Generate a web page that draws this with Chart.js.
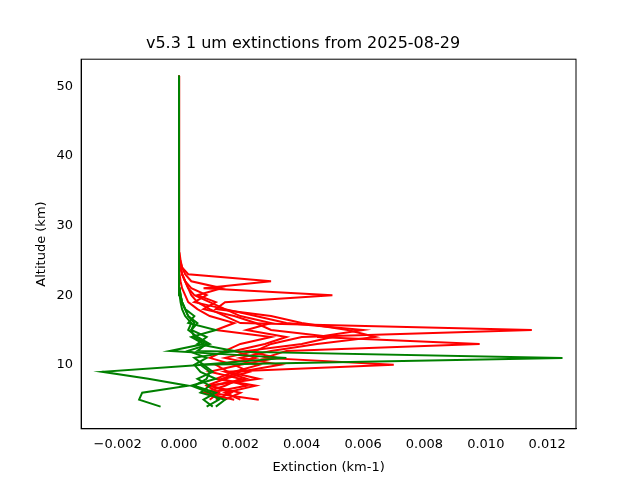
<!DOCTYPE html>
<html><head><meta charset="utf-8">
<script src="https://cdn.jsdelivr.net/npm/chart.js@4/dist/chart.umd.min.js"></script>
<style>body{margin:0;background:#fff}#wrap{width:640px;height:480px}</style>
</head><body><div id="wrap"><canvas id="c"></canvas></div>
<script>
// altitude levels (km)
var altitudes = [4,5,6,7,8,9,10,11,12,13,14,15,16,17,18,19,20,21,22,23,24,25,26,28,30,35,40,45,51.5];
// extinction profiles, in units of 1e-3 km-1
var red1 = [null,2.0,1.5,2.5,1.2,1.8,2.6,1.5,2.5,3.0,4.0,11.5,2.0,1.5,1.0,0.6,0.4,0.3,0.2,0.1,0.05,0.02,0.01,0.005,0,0,0,0,0];
var red2 = [null,1.5,2.0,1.0,2.2,1.5,7.0,2.8,3.5,9.8,4.5,6.0,3.5,2.5,1.5,1.0,0.5,0.3,0.2,0.1,0.05,0.02,0.01,0,0,0,0,0,0];
var red3 = [null,2.6,1.0,2.2,1.4,2.0,3.3,2.0,3.0,4.5,6.4,5.5,4.0,3.0,1.2,1.5,5.0,0.8,3.0,0.3,0.1,0.05,0.02,0.01,0,0,0,0,0];
var red4 = [null,1.8,0.8,1.5,2.0,1.0,2.0,3.2,2.2,4.0,5.0,3.0,2.5,1.8,0.8,1.2,0.6,1.4,0.4,0.2,0.1,0.03,0.01,0,0,0,0,0,0];
var red5 = [null,1.2,1.7,1.0,2.6,1.6,1.2,2.5,1.8,2.8,3.5,2.2,3.0,2.0,1.5,0.5,0.9,0.4,0.2,0.1,0.05,0.02,0,0,0,0,0,0,0];
var red6 = [null,1.0,1.3,0.9,1.5,2.3,1.8,1.0,1.5,2.0,3.0,1.2,1.8,1.0,0.6,0.3,0.2,0.1,0.05,0.02,0,0,0,0,0,0,0,0,0];
var green1 = [-0.6,-1.3,-1.2,0.3,-1.0,-2.5,0.8,12.5,0.6,0.9,0.5,0.4,0.5,0.3,0.2,0.1,0.05,0.02,0.01,0,0,0,0,0,0,0,0,0,0];
var green2 = [1.1,0.8,1.2,0.5,0.9,1.0,0.7,3.5,-0.3,0.8,0.4,1.2,0.3,0.5,0.2,0.1,0.05,0.02,0,0,0,0,0,0,0,0,0,0,0];
var green3 = [1.2,1.5,0.7,1.0,0.6,1.1,0.8,0.5,1.8,0.6,0.9,0.4,0.6,0.3,0.2,0.1,0.05,0,0,0,0,0,0,0,0,0,0,0,0];
var green4 = [0.9,1.3,1.0,0.4,1.2,0.7,0.5,0.9,0.3,1.0,0.6,0.3,0.4,0.2,0.1,0.05,0.02,0,0,0,0,0,0,0,0,0,0,0,0];
var redProfiles = [red1, red2, red3, red4, red5, red6];
var greenProfiles = [green1, green2, green3, green4];

function toPoints(vals) {
    var pts = [];
    vals.forEach(function(v, i) { if (v !== null) pts.push({x: v / 1000, y: altitudes[i]}); });
    return pts;
}
// dataset 0 is drawn on top, so green goes first
var datasets = [];
greenProfiles.forEach(function(p) { datasets.push({data: toPoints(p), borderColor: 'green'}); });
redProfiles.forEach(function(p) { datasets.push({data: toPoints(p), borderColor: 'red'}); });
datasets.forEach(function(d) { d.showLine = true; d.pointRadius = 0; d.borderWidth = 2; d.tension = 0; });

var font = {family: 'DejaVu Sans', size: 13};
new Chart(document.getElementById('c'), {
    type: 'scatter',
    data: {datasets: datasets},
    options: {
        responsive: true, maintainAspectRatio: false, animation: false,
        layout: {padding: {top: 14, right: 64, bottom: 1, left: 30}},
        plugins: {
            legend: {display: false}, tooltip: {enabled: false},
            title: {display: true, text: 'v5.3 1 um extinctions from 2025-08-29', color: '#000',
                font: {family: 'DejaVu Sans', size: 16, weight: 'normal'}, padding: {top: 20, bottom: 6}}
        },
        scales: {
            x: {
                min: -0.00319, max: 0.01294,
                afterBuildTicks: function(ax) { ax.ticks = [-0.002,0,0.002,0.004,0.006,0.008,0.010,0.012].map(function(v){return {value: v};}); },
                ticks: {color: '#000', font: font, maxRotation: 0,
                    callback: function(v) { return (v < 0 ? '\u2212' : '') + Math.abs(v).toFixed(3); }},
                grid: {display: false, drawTicks: true, tickLength: 5, tickColor: '#000'},
                border: {color: '#000'},
                title: {display: true, text: 'Extinction (km-1)', color: '#000', font: font}
            },
            y: {
                min: 0.82, max: 53.87,
                afterBuildTicks: function(ax) { ax.ticks = [10,20,30,40,50].map(function(v){return {value: v};}); },
                ticks: {color: '#000', font: font},
                grid: {display: false, drawTicks: true, tickLength: 5, tickColor: '#000'},
                border: {color: '#000'},
                title: {display: true, text: 'Altitude (km)', color: '#000', font: font}
            }
        }
    },
    plugins: [{
        id: 'frame',
        afterDraw: function(ch) {
            var a = ch.chartArea, c = ch.ctx;
            c.save(); c.strokeStyle = '#000'; c.lineWidth = 1;
            c.strokeRect(a.left, a.top, a.right - a.left, a.bottom - a.top);
            c.restore();
        }
    }]
});
</script></body></html>
